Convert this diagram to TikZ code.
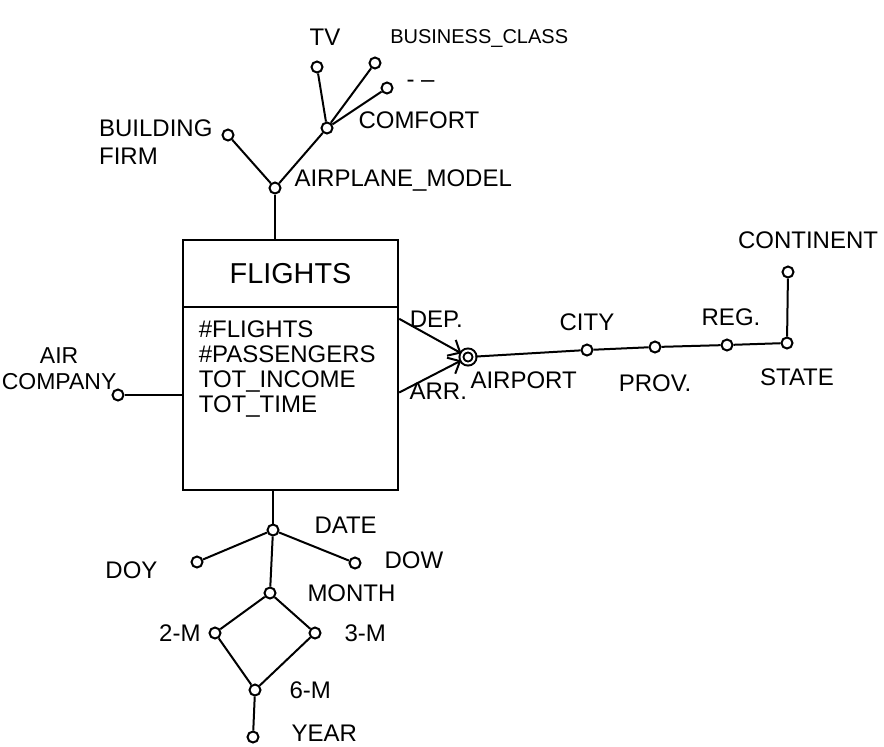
\documentclass[tikz,border=0pt]{standalone}
\usepackage{fontspec}
\setmainfont{Liberation Sans}
\usetikzlibrary{arrows.meta,positioning}

\begin{document}
\begin{tikzpicture}[
  x=0.5pt, y=-0.5pt,
  line width=1pt,
  attr/.style={circle, draw, fill=white, inner sep=0pt, minimum size=5.5pt},
  keyattr/.style={attr, double, double distance=1pt, minimum size=6.5pt},
  every label/.style={font=\large, inner sep=2pt},
  lbl/.style={font=\large, inner sep=2pt},
  factbox/.style={rectangle, draw, line width=1.2pt, minimum width=107.5pt},
  link/.style={line width=1pt},
  roll/.style={-{Straight Barb[length=5pt,width=9pt]}, line width=1pt}
]
\useasboundingbox (0,0) rectangle (884,746);

% fact
\node[factbox, minimum height=33.5pt, font=\Large] (ftitle) at (290.5,273.5) {FLIGHTS};
\node[factbox, minimum height=91.5pt, below=-1.2pt of ftitle] (fbody) {};
\node[lbl, inner sep=0pt, align=left, anchor=north west, font={\fontsize{12pt}{12.5pt}\selectfont}]
  (mlist) at ([xshift=8pt,yshift=-7pt]fbody.north west)
  {\#FLIGHTS\\\#PASSENGERS\\TOT\_INCOME\\TOT\_TIME};

% airplane hierarchy
\node[attr, label={[label distance=4pt,yshift=4pt]right:AIRPLANE\_MODEL}] (model) at (275,188) {};
\node[attr, label={[label distance=2pt,yshift=-3.5pt,align=left]left:BUILDING\\FIRM}] (firm) at (228,135) {};
\node[attr, label={[label distance=10pt,yshift=4pt]right:COMFORT}] (comfort) at (327,128) {};
\node[attr, label={[label distance=5pt,xshift=4pt]above:TV}] (tv) at (317,67) {};
\node[attr, label={[label distance=4pt,font=\normalsize]above right:BUSINESS\_CLASS}] (business) at (375,63) {};
\node[attr, label={[label distance=4pt,yshift=2pt]right:- --}] (other) at (387,88) {};

% air company
\node[attr, label={[label distance=0pt,inner sep=0pt,xshift=2pt,align=center,font={\fontsize{11.5pt}{13pt}\selectfont}]above left:AIR\\COMPANY}] (aircomp) at (118,395) {};

% airport hierarchy
\node[keyattr, label={[label distance=3pt,xshift=-6pt]below right:AIRPORT}] (airport) at (468,357) {};
\node[attr, label={[label distance=4pt]above:CITY}] (city) at (587,350) {};
\node[attr, label={[label distance=8pt]below:PROV.}] (prov) at (655,347) {};
\node[attr, label={[label distance=4pt,xshift=2pt]above:REG.}] (reg) at (727,345) {};
\node[attr, label={[label distance=7pt,xshift=5pt]below:STATE}] (state) at (787,343) {};
\node[attr, label={[label distance=6pt,xshift=10pt]above:CONTINENT}] (continent) at (788,272) {};

% date hierarchy
\node[attr, label={[label distance=15pt,yshift=2.5pt]right:DATE}] (date) at (273,530) {};
\node[attr, label={[label distance=14pt,yshift=-4pt]left:DOY}] (doy) at (197,562) {};
\node[attr, label={[label distance=9pt,yshift=1.5pt]right:DOW}] (dow) at (355,563) {};
\node[attr, label={[label distance=13pt]right:MONTH}] (month) at (270,593) {};
\node[attr, label={[label distance=1.5pt]left:2-M}] (m2) at (215,633) {};
\node[attr, label={[label distance=9pt]right:3-M}] (m3) at (315,633) {};
\node[attr, label={[label distance=11.5pt]right:6-M}] (m6) at (255,690) {};
\node[attr, label={[label distance=13.5pt,yshift=2pt]right:YEAR}] (year) at (253,737) {};

\draw[link] (model) -- (model |- ftitle.north);
\draw[link] (model) -- (firm);
\draw[link] (model) -- (comfort);
\draw[link] (comfort) -- (tv);
\draw[link] (comfort) -- (business);
\draw[link] (comfort) -- (other);
\draw[link] (aircomp) -- (aircomp -| fbody.west);
\draw[roll] ([yshift=-6.5pt]fbody.north east) -- node[lbl, above, pos=0.5, xshift=3pt, yshift=2pt] (dep) {DEP.} (airport);
\draw[roll] ([yshift=3pt]fbody.east) -- node[lbl, below, pos=0.5, xshift=4pt, yshift=-1pt] (arr) {ARR.} (airport);
\draw[link] (airport) -- (city);
\draw[link] (city) -- (prov);
\draw[link] (prov) -- (reg);
\draw[link] (reg) -- (state);
\draw[link] (state) -- (continent);
\draw[link] (date) -- (date |- fbody.south);
\draw[link] (date) -- (doy);
\draw[link] (date) -- (dow);
\draw[link] (date) -- (month);
\draw[link] (month) -- (m2);
\draw[link] (month) -- (m3);
\draw[link] (m2) -- (m6);
\draw[link] (m3) -- (m6);
\draw[link] (m6) -- (year);
\end{tikzpicture}
\end{document}
